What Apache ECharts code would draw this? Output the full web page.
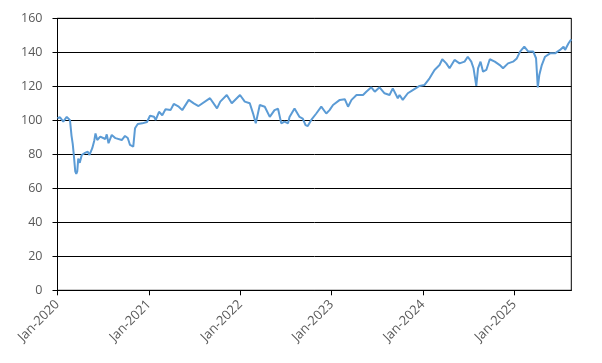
<!DOCTYPE html>
<html>
<head>
<meta charset="utf-8">
<script src="https://cdn.jsdelivr.net/npm/echarts@6/dist/echarts.min.js"></script>
<style>
html,body{margin:0;padding:0;background:#fff;}
#chart{width:602px;height:363px;}
</style>
</head>
<body>
<div id="chart"></div>
<script>
// Dates of the observations
var dates = [
  "2020-01-01","2020-01-11","2020-01-24","2020-02-07","2020-02-14","2020-02-20","2020-02-26","2020-03-02","2020-03-06","2020-03-12",
  "2020-03-16","2020-03-20","2020-03-24","2020-03-30","2020-04-03","2020-04-07","2020-04-20","2020-05-01","2020-05-08","2020-05-14",
  "2020-05-19","2020-05-27","2020-06-01","2020-06-08","2020-06-20","2020-07-10","2020-07-16","2020-07-23","2020-08-05","2020-08-20",
  "2020-08-25","2020-09-14","2020-09-27","2020-10-08","2020-10-17","2020-10-24","2020-10-30","2020-11-06","2020-11-17","2020-12-05",
  "2020-12-24",
  "2021-01-05","2021-01-21","2021-01-28","2021-02-10","2021-02-23","2021-03-08","2021-03-28","2021-04-10","2021-04-30","2021-05-14",
  "2021-06-09","2021-06-29","2021-07-18","2021-07-25","2021-09-02","2021-09-30","2021-10-13","2021-11-08","2021-11-28","2021-12-31",
  "2022-01-19","2022-02-08","2022-02-21","2022-03-04","2022-03-20","2022-04-09","2022-04-29","2022-05-18","2022-06-01","2022-06-14",
  "2022-06-27","2022-07-11","2022-07-17","2022-08-06","2022-08-26","2022-09-08","2022-09-19","2022-09-28","2022-10-12","2022-11-01",
  "2022-11-21","2022-12-11","2022-12-24",
  "2023-01-07","2023-02-03","2023-02-23","2023-03-08","2023-03-22","2023-04-11","2023-05-07","2023-05-20","2023-06-09","2023-06-23",
  "2023-07-12","2023-08-01","2023-08-21","2023-09-03","2023-09-23","2023-09-30","2023-10-13","2023-10-20","2023-11-02","2023-11-22",
  "2023-12-19",
  "2024-01-08","2024-01-28","2024-02-17","2024-03-08","2024-03-19","2024-04-04","2024-04-17","2024-05-07","2024-05-27","2024-06-16",
  "2024-06-29","2024-07-13","2024-07-22","2024-08-02","2024-08-09","2024-08-19","2024-08-29","2024-09-11","2024-09-25","2024-10-15",
  "2024-11-04","2024-11-17","2024-12-07","2024-12-27",
  "2025-01-11","2025-01-24","2025-02-10","2025-02-26","2025-03-18","2025-03-29","2025-04-05","2025-04-11","2025-04-21","2025-05-04",
  "2025-05-24","2025-06-13","2025-07-03","2025-07-17","2025-07-23","2025-08-06","2025-08-17"
];
// Index values
var values = [
  101.2,101.8,99.2,102,101.5,100,91,86,80,70,
  68.5,70,77.5,75,76,79.6,80.8,81.5,79.6,80.5,
  83.6,88,92.3,88.4,90.4,89,91.7,86.5,91.4,89.5,
  90.4,88.4,90.8,89.6,85.5,85.5,84.5,95.3,97.8,98.2,
  99,
  102.7,102.1,100.2,105,103,106.5,106,109.6,108,106,
  112,110,108.4,109,113,107,111,114.9,110,114.9,
  111,110,104.1,98.2,109,108,102,106,106.8,98.2,
  99.2,98.2,102,107,102,101,97.2,96.6,100.2,104,
  108,104,106,
  109,112,112.4,108,112,114.9,114.9,116.8,119.4,116.8,
  119.4,115.9,114.9,118.8,113,114.9,112,111,115.9,117.8,
  120.2,
  120.8,124.7,129.6,132.5,135.9,133.5,130.6,135.5,133.5,134.5,
  137.4,134.5,130.6,120.2,130.6,134.5,128.6,129.6,135.9,134.5,
  132.5,130.6,133.5,134.5,
  136.4,140.4,143.3,140.4,140.4,136.5,119.4,126.6,132.5,137.4,
  139.4,139.4,141.4,143.3,141.4,145.3,147.6
];
var xStart = "2020-01-01";
var xEnd = "2025-08-17";
var yTicks = [0, 20, 40, 60, 80, 100, 120, 140, 160];
var monthNames = ["Jan","Feb","Mar","Apr","May","Jun","Jul","Aug","Sep","Oct","Nov","Dec"];

var seriesData = dates.map(function (d, i) { return [d, values[i]]; });

var chart = echarts.init(document.getElementById('chart'), null, {renderer: 'canvas'});
var YEAR = 365 * 24 * 3600 * 1000;
chart.setOption({
  animation: false,
  backgroundColor: '#ffffff',
  grid: {
    left: 57.5, right: 30.7, top: 18.3, bottom: 72.7,
    show: true, borderColor: '#000000', borderWidth: 1, backgroundColor: 'transparent'
  },
  xAxis: {
    type: 'time',
    min: xStart,
    max: xEnd,
    minInterval: YEAR,
    maxInterval: YEAR,
    splitLine: {show: false},
    axisLine: {show: true, lineStyle: {color: '#000000', width: 1}},
    axisTick: {show: true, length: 5, lineStyle: {color: '#000000'}},
    axisLabel: {
      rotate: 45,
      margin: 12,
      color: '#595959',
      fontFamily: 'Open Sans',
      fontSize: 13,
      hideOverlap: false,
      formatter: function (v) {
        var d = new Date(v);
        return monthNames[d.getUTCMonth()] + '-' + d.getUTCFullYear();
      }
    }
  },
  yAxis: {
    type: 'value',
    min: yTicks[0],
    max: yTicks[yTicks.length - 1],
    interval: yTicks[1] - yTicks[0],
    splitLine: {show: true, lineStyle: {color: '#000000', width: 1}},
    axisLine: {show: true, lineStyle: {color: '#000000', width: 1}},
    axisTick: {show: true, length: 5, lineStyle: {color: '#000000'}},
    axisLabel: {
      margin: 15,
      color: '#595959',
      fontFamily: 'Open Sans',
      fontSize: 12.5
    }
  },
  series: [{
    type: 'line',
    data: seriesData,
    showSymbol: false,
    symbol: 'none',
    lineStyle: {color: '#5B9BD5', width: 2},
    itemStyle: {color: '#5B9BD5'}
  }]
});
</script>
</body>
</html>
